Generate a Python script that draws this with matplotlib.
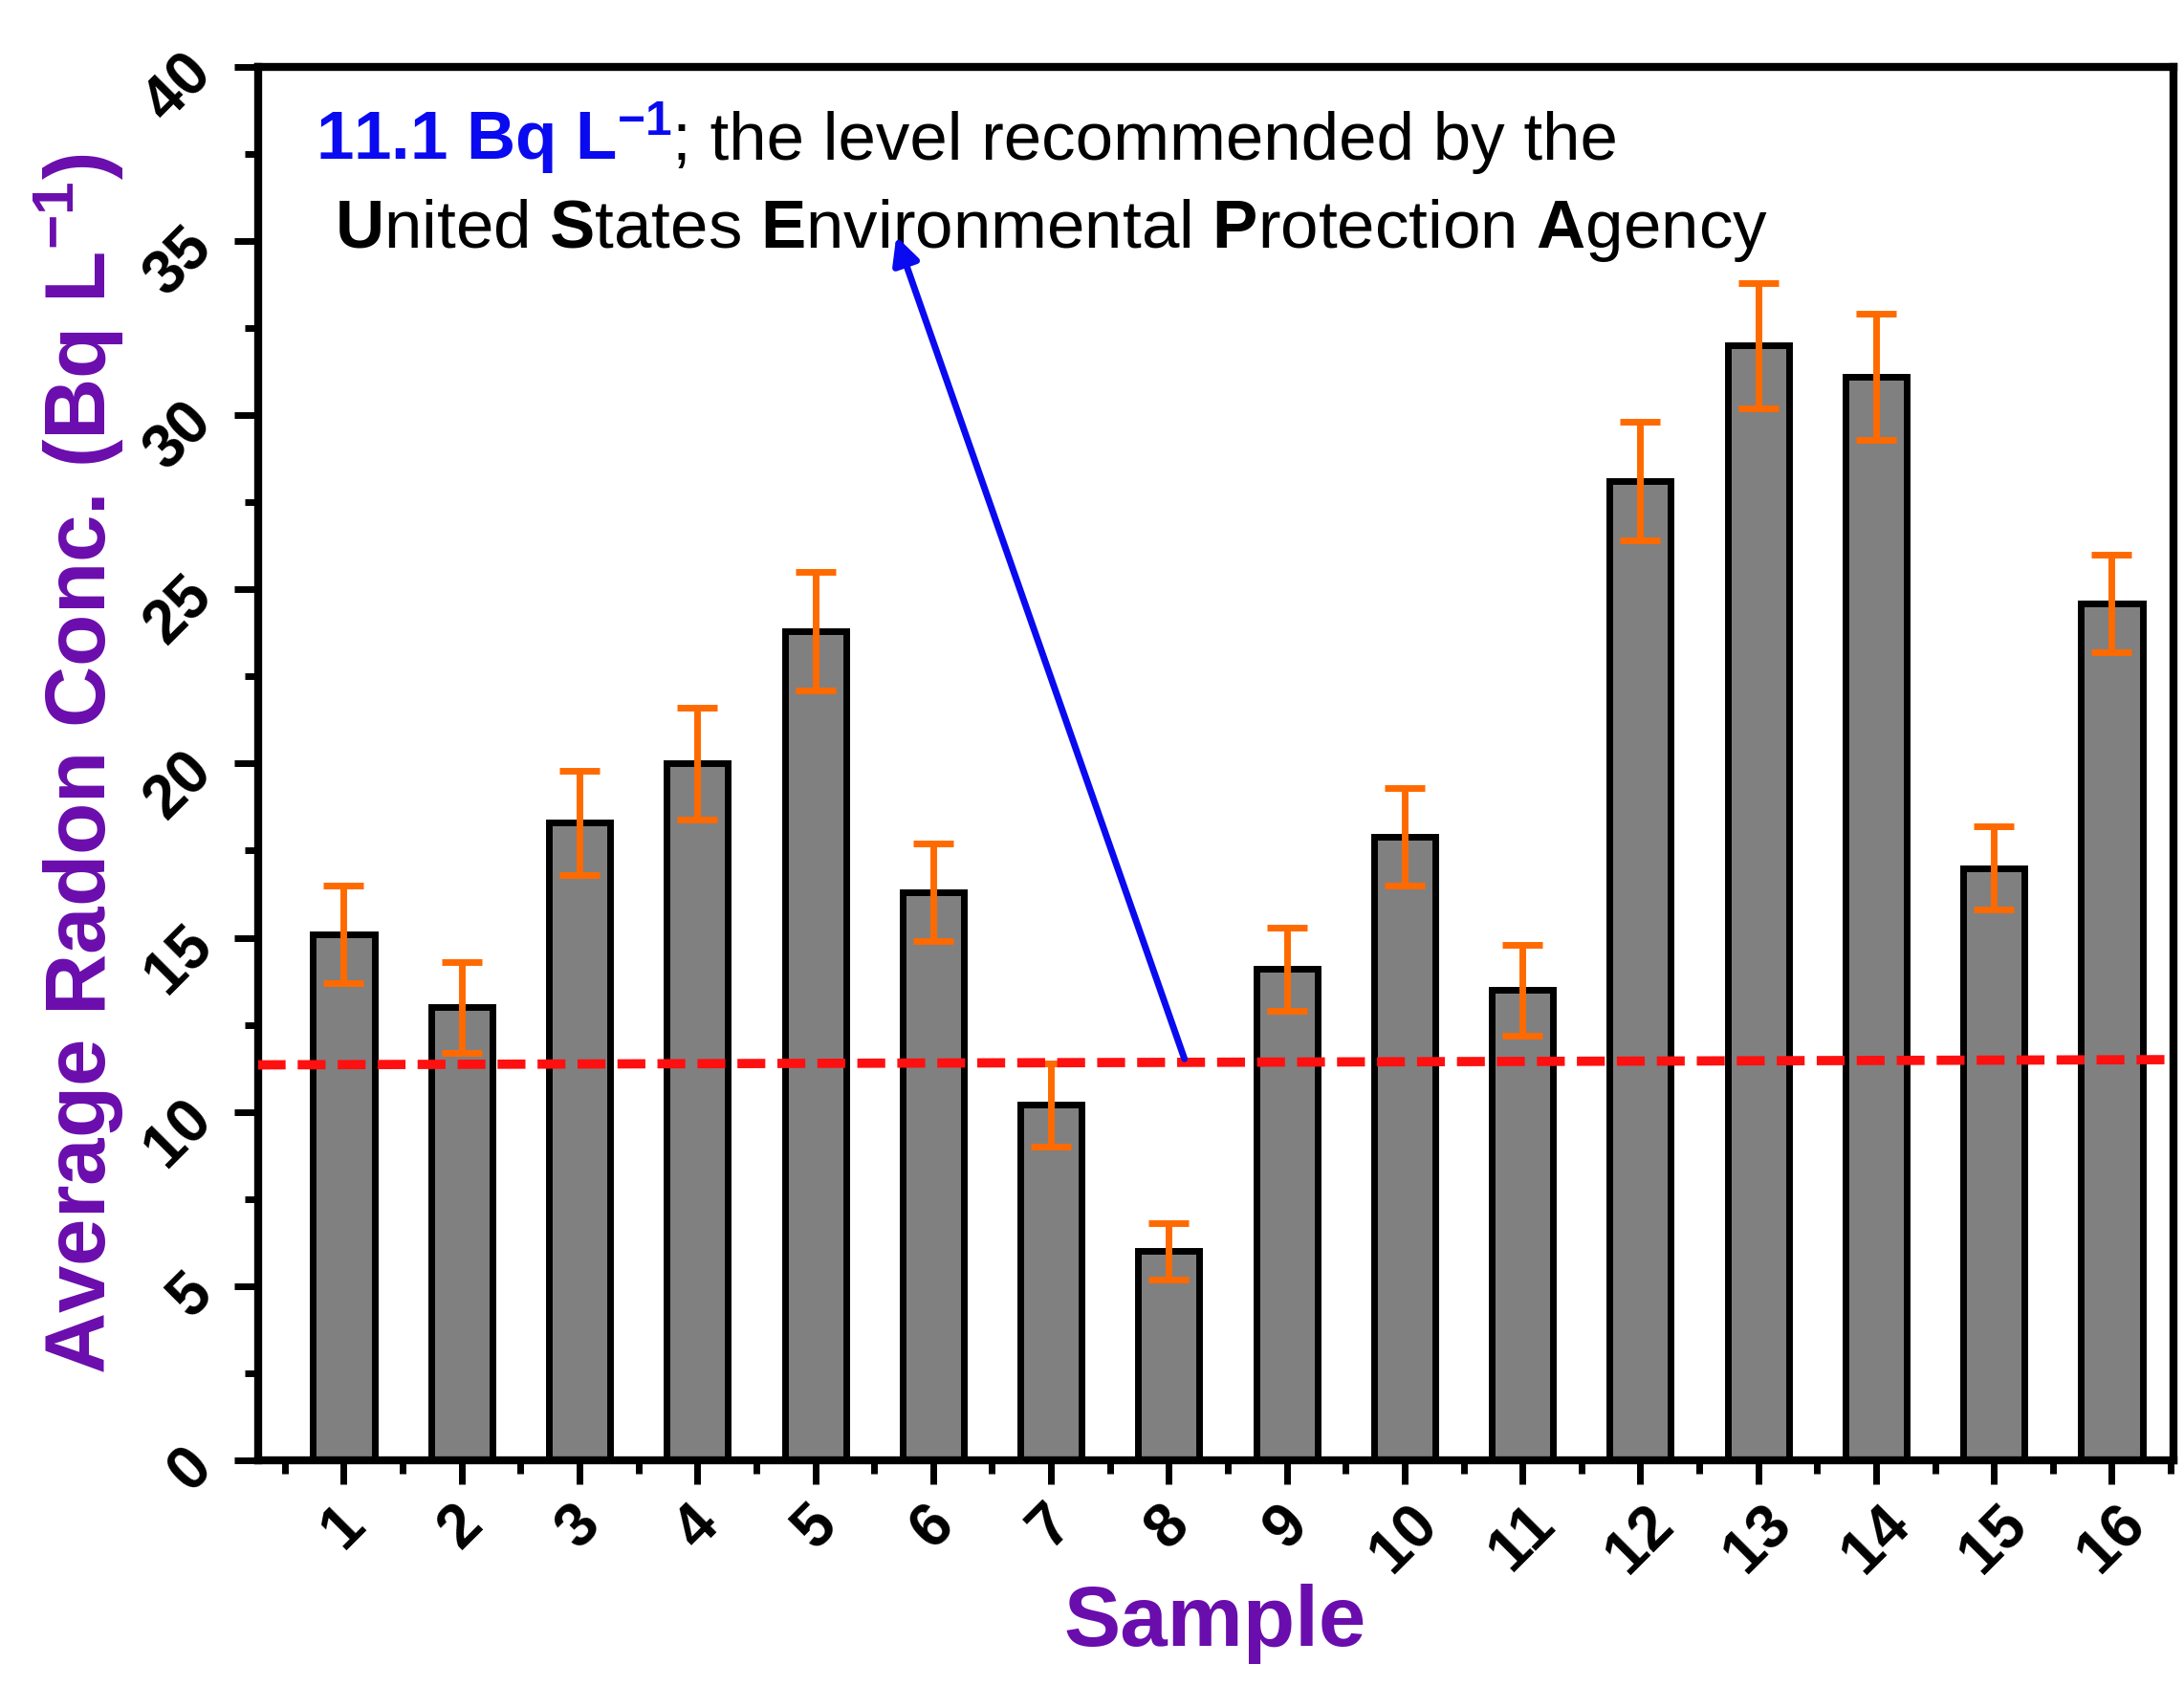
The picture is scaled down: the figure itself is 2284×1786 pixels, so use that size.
import numpy as np
import matplotlib
matplotlib.use("Agg")
import matplotlib.pyplot as plt
from matplotlib.ticker import MultipleLocator

plt.rcParams['font.family'] = 'Liberation Sans'
plt.rcParams['mathtext.fontset'] = 'custom'
plt.rcParams['mathtext.rm'] = 'Liberation Sans'
plt.rcParams['mathtext.bf'] = 'Liberation Sans:bold'

# data
samples = list(range(1, 17))
conc = [15.1, 13.0, 18.3, 20.0, 23.8, 16.3, 10.2, 6.0, 14.1, 17.9, 13.5, 28.1, 32.0, 31.1, 17.0, 24.6]
err = [1.4, 1.3, 1.5, 1.6, 1.7, 1.4, 1.2, 0.8, 1.2, 1.4, 1.3, 1.7, 1.8, 1.8, 1.2, 1.4]
limit_line_x = [0.27, 16.52]
limit_line_y = [11.35, 11.5]

purple = '#6A0DAD'
fig = plt.figure(figsize=(22.84, 17.86), dpi=100)
ax = fig.add_axes([0.118, 0.145, 0.877, 0.816])

ax.bar(samples, conc, width=0.52, color='#808080', edgecolor='black', linewidth=5, zorder=2)
ax.errorbar(samples, conc, yerr=err, fmt='none', ecolor='#FF6A00', elinewidth=5,
            capsize=15, capthick=5, zorder=3)
ax.plot(limit_line_x, limit_line_y, '--', color='#FF1010', lw=7, dashes=(3, 1.3), zorder=4)
ax.annotate('', xy=(5.68, 35.2), xytext=(8.14, 11.45),
            arrowprops=dict(arrowstyle='-|>', color='#0A0AF0', lw=5, mutation_scale=42), zorder=5)

ax.set_xlim(0.27, 16.52)
ax.set_ylim(0, 40)
ax.set_xticks(samples)
ax.xaxis.set_minor_locator(MultipleLocator(0.5))
ax.yaxis.set_major_locator(MultipleLocator(5))
ax.yaxis.set_minor_locator(MultipleLocator(2.5))
ax.tick_params(which='major', direction='out', length=18, width=5, labelsize=46, pad=8)
ax.tick_params(which='minor', direction='out', length=10, width=5)
for lab in ax.get_xticklabels() + ax.get_yticklabels():
    lab.set_rotation(45)
    lab.set_fontweight('bold')
for s in ax.spines.values():
    s.set_linewidth(6)

ax.set_xlabel('Sample', fontsize=64, fontweight='bold', color=purple, labelpad=0)
ax.set_ylabel(r'Average Radon Conc. (Bq L$\mathbf{^{-1}}$)', fontsize=64,
              fontweight='bold', color=purple, labelpad=6)

t1 = ax.text(0.03, 0.933, r'11.1 Bq L$\mathbf{^{-1}}$', transform=ax.transAxes,
             fontsize=51, fontweight='bold', color='#0A0AF0', va='baseline')
fig.canvas.draw()
bb = t1.get_window_extent()
x1 = ax.transAxes.inverted().transform((bb.x1, bb.y0))[0]
ax.text(x1, 0.933, '; the level recommended by the', transform=ax.transAxes,
        fontsize=51, color='black', va='baseline')
ax.text(0.04, 0.870, r'$\mathbf{U}$nited $\mathbf{S}$tates $\mathbf{E}$nvironmental '
        r'$\mathbf{P}$rotection $\mathbf{A}$gency', transform=ax.transAxes,
        fontsize=51, color='black', va='baseline')

fig.savefig('out.png', dpi=100)
